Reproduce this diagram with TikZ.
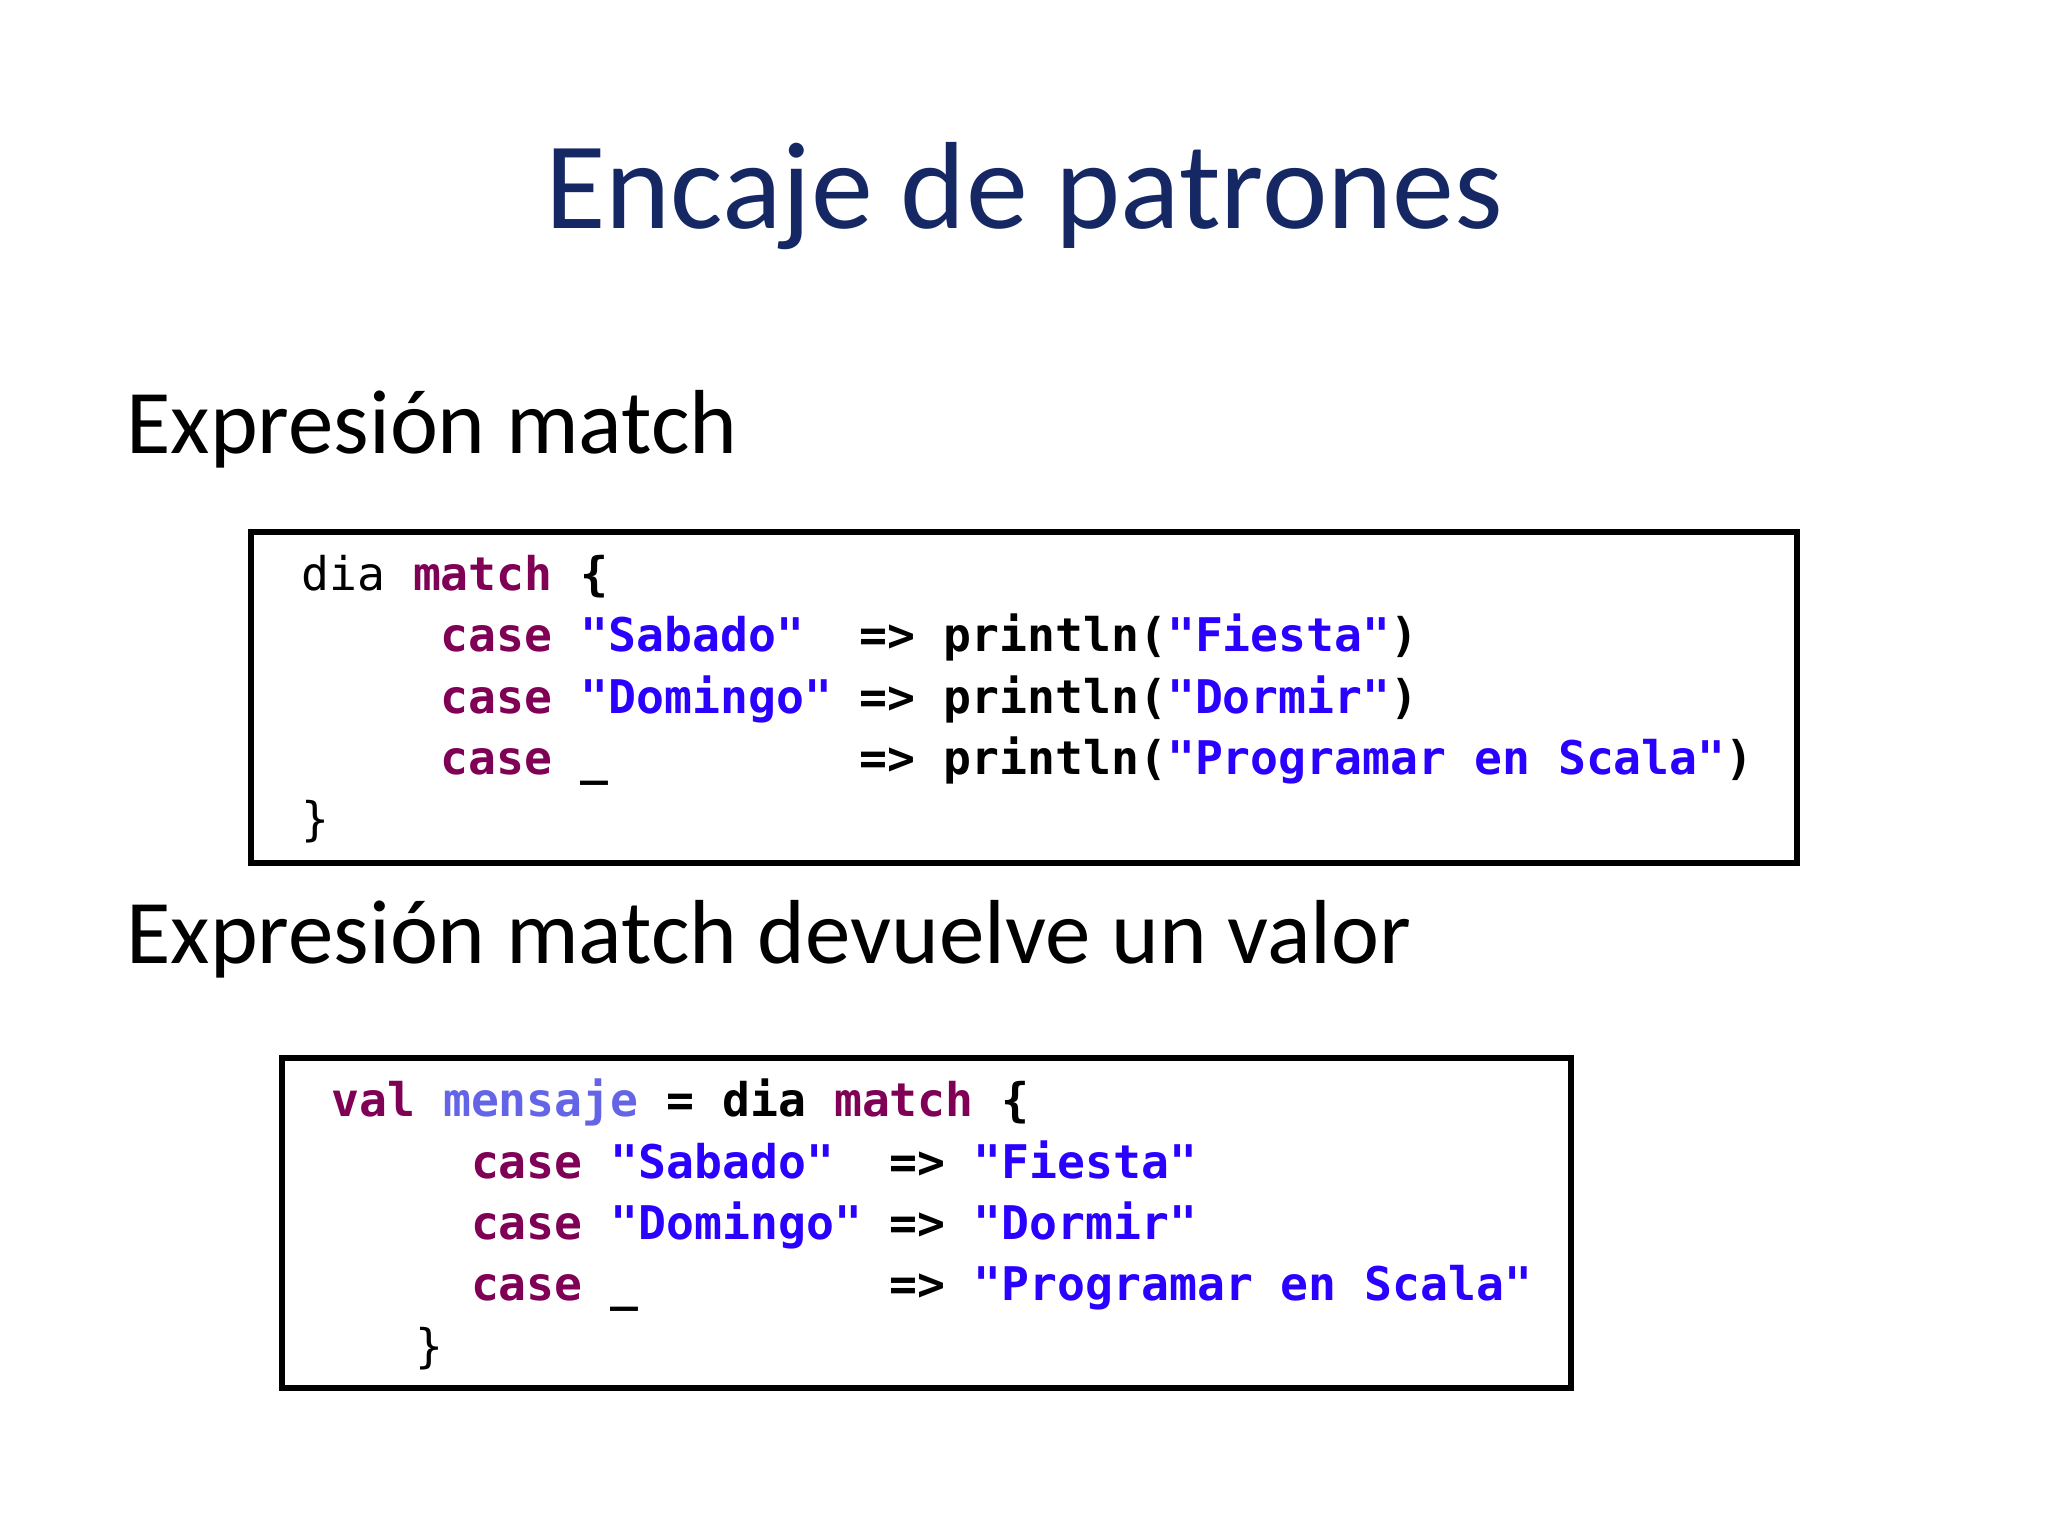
\documentclass[tikz,border=0pt]{standalone}
\usepackage{fontspec}
\setmainfont{Carlito}
\setmonofont{DejaVu Sans Mono}
\definecolor{titlec}{RGB}{22,40,100}
\definecolor{kw}{RGB}{127,0,85}
\definecolor{st}{RGB}{42,0,255}
\definecolor{vr}{RGB}{100,100,230}
\newcommand\K[1]{\textcolor{kw}{#1}}
\newcommand\Sq[1]{\textcolor{st}{#1}}
\newcommand\skp[1]{\hspace{#1\fontcharwd\font`x}}
\tikzset{codeln/.style={anchor=base west,inner sep=0pt,font=\fontsize{10.1}{12}\selectfont\ttfamily\bfseries},
 head/.style={anchor=base west,inner sep=0pt,font=\fontsize{19.8}{22}\selectfont},
 codebox/.style={draw,line width=1.3pt}}
\begin{document}
\begin{tikzpicture}[x=0.01cm,y=-0.01cm]
\useasboundingbox (0,0) rectangle (1568,1176);
\node[text=titlec,font=\fontsize{27}{30}\selectfont] (title) at (784,150) {Encaje de patrones};
\node[head] (h1) at (96,347) {Expresión match};
\node[head] (h2) at (96,738) {Expresión match devuelve un valor};
\draw[codebox] (192,407) rectangle (1376,661);
\draw[codebox] (216,810) rectangle (1203,1063);
\node[codeln] (a1) at (230,452) {\mdseries dia \bfseries\K{match} \{};
\node[codeln] (a2) at (230,499) {\skp{5}\K{case} \Sq{"Sabado"}\skp{2}=> println(\Sq{"Fiesta"})};
\node[codeln] (a3) at (230,546) {\skp{5}\K{case} \Sq{"Domingo"} => println(\Sq{"Dormir"})};
\node[codeln] (a4) at (230,593) {\skp{5}\K{case} \_\skp{9}=> println(\Sq{"Programar en Scala"})};
\node[codeln] (a5) at (230,640) {\mdseries\}};
\node[codeln] (b1) at (253,855) {\K{val} \textcolor{vr}{mensaje} = dia \K{match} \{};
\node[codeln] (b2) at (253,902) {\skp{5}\K{case} \Sq{"Sabado"}\skp{2}=> \Sq{"Fiesta"}};
\node[codeln] (b3) at (253,949) {\skp{5}\K{case} \Sq{"Domingo"} => \Sq{"Dormir"}};
\node[codeln] (b4) at (253,996) {\skp{5}\K{case} \_\skp{9}=> \Sq{"Programar en Scala"}};
\node[codeln] (b5) at (253,1043) {\mdseries\skp{3}\}};
\end{tikzpicture}
\end{document}
